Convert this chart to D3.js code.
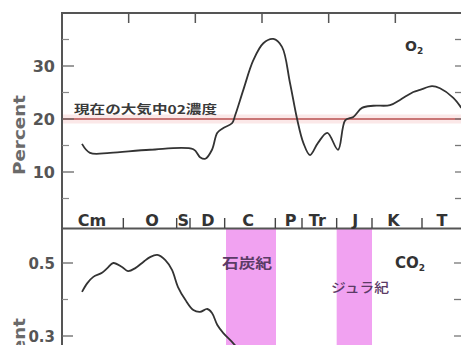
<!DOCTYPE html>
<html><head><meta charset="utf-8">
<script src="https://cdn.jsdelivr.net/npm/d3@7/dist/d3.min.js"></script>
<style>html,body{margin:0;padding:0;background:#fff;}svg{display:block;}</style>
</head><body>
<svg id="c" width="461" height="345"></svg>
<script>
// ---- data (time in Ma, before present) ----
const o2Ma  = [570,558,528,468,403,393,385,375,367,358,345,340,328,313,298,283,270,258,247,238,228,216,202,186,175,163,150,133,108,93,73,63,45,33,13,1];
const o2Pct = [15.3,13.6,13.6,14.2,14.3,12.8,12.5,14.2,17.4,18.3,19.2,20.8,25.5,31.1,34.3,35.1,33.6,26.8,19.8,15.5,13.2,15.5,17.4,14.2,19.8,20.4,22.1,22.5,22.6,23.6,25.1,25.5,26.2,25.8,24.0,22.1];
const co2Ma  = [570,562,553,540,532,523,510,501,490,478,468,457,445,435,426,415,403,393,382,375,367,358,345,337];
const co2Val = [0.421,0.445,0.462,0.473,0.486,0.500,0.489,0.478,0.486,0.503,0.516,0.522,0.508,0.481,0.434,0.399,0.371,0.366,0.374,0.363,0.330,0.308,0.284,0.267];
const periodNames  = ["Cm","O","S","D","C","P","Tr","J","K","T"];
const periodLabelMa = [555,465,418,381,321,257,217,160,103,30];
const periodBounds = [508,428,408,356,280,240,188,135,60];
const topTicksMa = [500,400,300,200,100];
const o2TickLabels = [10,20,30];
const o2MinorTicks = [5,15,25,35];
const co2TickLabels = [0.3,0.5];
const co2MinorTicks = [0.4];
const presentO2 = 20;
const bandsMa = [[354,279],[188,135]];

const svg = d3.select("#c");
const x = d3.scaleLinear().domain([600,0]).range([62,462]);
const yT = d3.scaleLinear().domain([0,40]).range([225,13]);
const yB = d3.scaleLinear().domain([0.3,0.5]).range([336,263]);
const midY = 228.5;
const frame = "#555";
const sans = "'DejaVu Sans', sans-serif";

const defs = svg.append("defs");
defs.append("clipPath").attr("id","lc").append("rect")
  .attr("x",62).attr("y",midY).attr("width",400).attr("height",345-midY);
defs.append("clipPath").attr("id","tc").append("rect")
  .attr("x",62).attr("y",13).attr("width",400).attr("height",midY-13);

// pink bands
const lowerG = svg.append("g").attr("clip-path","url(#lc)");
lowerG.selectAll("rect.band").data(bandsMa).join("rect")
  .attr("x",d=>x(d[0])).attr("width",d=>x(d[1])-x(d[0]))
  .attr("y",midY).attr("height",345-midY).attr("fill","#f1a2f1");

// present O2 line
const topG = svg.append("g").attr("clip-path","url(#tc)");
topG.append("line").attr("x1",62).attr("x2",462).attr("y1",yT(presentO2)).attr("y2",yT(presentO2))
  .attr("stroke","#f9dada").attr("stroke-width",9).attr("opacity",0.6);
topG.append("line").attr("x1",62).attr("x2",462).attr("y1",yT(presentO2)).attr("y2",yT(presentO2))
  .attr("stroke","#b85050").attr("stroke-width",1.6);
svg.append("text").attr("x",74).attr("y",114).attr("font-family","'Noto Sans CJK JP'")
  .attr("font-size",12).attr("font-weight",700).attr("fill","#3a3a3a")
  .attr("textLength",143).attr("lengthAdjust","spacingAndGlyphs").text("現在の大気中02濃度");

// curves
const lineT = d3.line().x((d,i)=>x(o2Ma[i])).y(d=>yT(d)).curve(d3.curveCatmullRom.alpha(0.5));
topG.append("path").attr("d",lineT(o2Pct)).attr("fill","none").attr("stroke","#333").attr("stroke-width",1.8);
const lineB = d3.line().x((d,i)=>x(co2Ma[i])).y(d=>yB(d)).curve(d3.curveCatmullRom.alpha(0.5));
lowerG.append("path").attr("d",lineB(co2Val)).attr("fill","none").attr("stroke","#333").attr("stroke-width",1.8);

// frame
svg.append("line").attr("x1",62).attr("x2",463).attr("y1",13).attr("y2",13).attr("stroke",frame).attr("stroke-width",2);
svg.append("line").attr("x1",62).attr("x2",62).attr("y1",12).attr("y2",345).attr("stroke",frame).attr("stroke-width",2);
svg.append("line").attr("x1",62).attr("x2",463).attr("y1",midY).attr("y2",midY).attr("stroke",frame).attr("stroke-width",2);

// top ticks
svg.selectAll("line.tt").data(topTicksMa).join("line").attr("class","tt")
  .attr("x1",d=>x(d)).attr("x2",d=>x(d)).attr("y1",13).attr("y2",23).attr("stroke",frame).attr("stroke-width",1.5);

// left axis top panel
svg.selectAll("line.lt").data(o2TickLabels).join("line").attr("class","lt")
  .attr("x1",62).attr("x2",74).attr("y1",d=>yT(d)).attr("y2",d=>yT(d)).attr("stroke","#666").attr("stroke-width",1.3);
svg.selectAll("line.lm").data(o2MinorTicks).join("line").attr("class","lm")
  .attr("x1",62).attr("x2",69).attr("y1",d=>yT(d)).attr("y2",d=>yT(d)).attr("stroke","#888").attr("stroke-width",1.2);
svg.selectAll("text.lt").data(o2TickLabels).join("text").attr("class","lt")
  .attr("x",55).attr("y",d=>yT(d)+6).attr("text-anchor","end").attr("font-family",sans)
  .attr("font-weight",700).attr("font-size",16).attr("fill","#555").text(d=>d);
svg.selectAll("line.rt").data(o2TickLabels.concat(o2MinorTicks)).join("line").attr("class","rt")
  .attr("x1",455).attr("x2",463).attr("y1",d=>yT(d)).attr("y2",d=>yT(d)).attr("stroke","#777").attr("stroke-width",1.3);

// lower axis
svg.selectAll("line.bl").data(co2TickLabels).join("line").attr("class","bl")
  .attr("x1",62).attr("x2",73).attr("y1",d=>yB(d)).attr("y2",d=>yB(d)).attr("stroke","#666").attr("stroke-width",1.3);
svg.selectAll("line.bm").data(co2MinorTicks).join("line").attr("class","bm")
  .attr("x1",62).attr("x2",68).attr("y1",d=>yB(d)).attr("y2",d=>yB(d)).attr("stroke","#888").attr("stroke-width",1.2);
svg.selectAll("text.bl").data(co2TickLabels).join("text").attr("class","bl")
  .attr("x",55).attr("y",d=>yB(d)+6).attr("text-anchor","end").attr("font-family",sans)
  .attr("font-weight",700).attr("font-size",15).attr("fill","#555").text(d=>d.toFixed(1));
svg.selectAll("line.br").data(co2TickLabels.concat(co2MinorTicks)).join("line").attr("class","br")
  .attr("x1",454).attr("x2",463).attr("y1",d=>yB(d)).attr("y2",d=>yB(d)).attr("stroke","#777").attr("stroke-width",1.3);

// Percent labels (the lower one is cut by the bottom edge, as in the reference)
[135,358].forEach(cy=>{
  svg.append("text").attr("transform",`translate(25,${cy}) rotate(-90)`).attr("text-anchor","middle")
    .attr("font-family",sans).attr("font-weight",700).attr("font-size",15).attr("fill","#6a6a6a")
    .attr("textLength",80).attr("lengthAdjust","spacingAndGlyphs").text("Percent");
});

// period row
svg.selectAll("text.per").data(periodNames).join("text").attr("class","per")
  .attr("x",(d,i)=>x(periodLabelMa[i])).attr("y",226).attr("text-anchor","middle")
  .attr("font-family",sans).attr("font-weight",700).attr("font-size",16).attr("fill","#333").text(d=>d);
svg.selectAll("line.pb").data(periodBounds).join("line").attr("class","pb")
  .attr("x1",d=>x(d)).attr("x2",d=>x(d)).attr("y1",218).attr("y2",228).attr("stroke","#444").attr("stroke-width",1.4);

// gas labels
const o2t = svg.append("text").attr("x",405).attr("y",51).attr("font-family",sans).attr("font-weight",700)
  .attr("font-size",14).attr("fill","#333");
o2t.append("tspan").text("O");
o2t.append("tspan").attr("font-size",9).attr("dy",3).text("2");
const co2t = svg.append("text").attr("x",395).attr("y",268).attr("font-family",sans).attr("font-weight",700)
  .attr("font-size",15).attr("fill","#333");
co2t.append("tspan").text("CO");
co2t.append("tspan").attr("font-size",9).attr("dy",3).text("2");

// era labels
svg.append("text").attr("x",247).attr("y",268).attr("text-anchor","middle").attr("font-family","'Noto Sans CJK JP'")
  .attr("font-size",14).attr("font-weight",700).attr("fill","#5b3b66")
  .attr("textLength",50).attr("lengthAdjust","spacingAndGlyphs").text("石炭紀");
svg.append("text").attr("x",360).attr("y",292).attr("text-anchor","middle").attr("font-family","'Noto Sans CJK JP'")
  .attr("font-size",13).attr("font-weight",500).attr("fill","#5b3b66")
  .attr("textLength",58).attr("lengthAdjust","spacingAndGlyphs").text("ジュラ紀");
</script>
</body></html>
